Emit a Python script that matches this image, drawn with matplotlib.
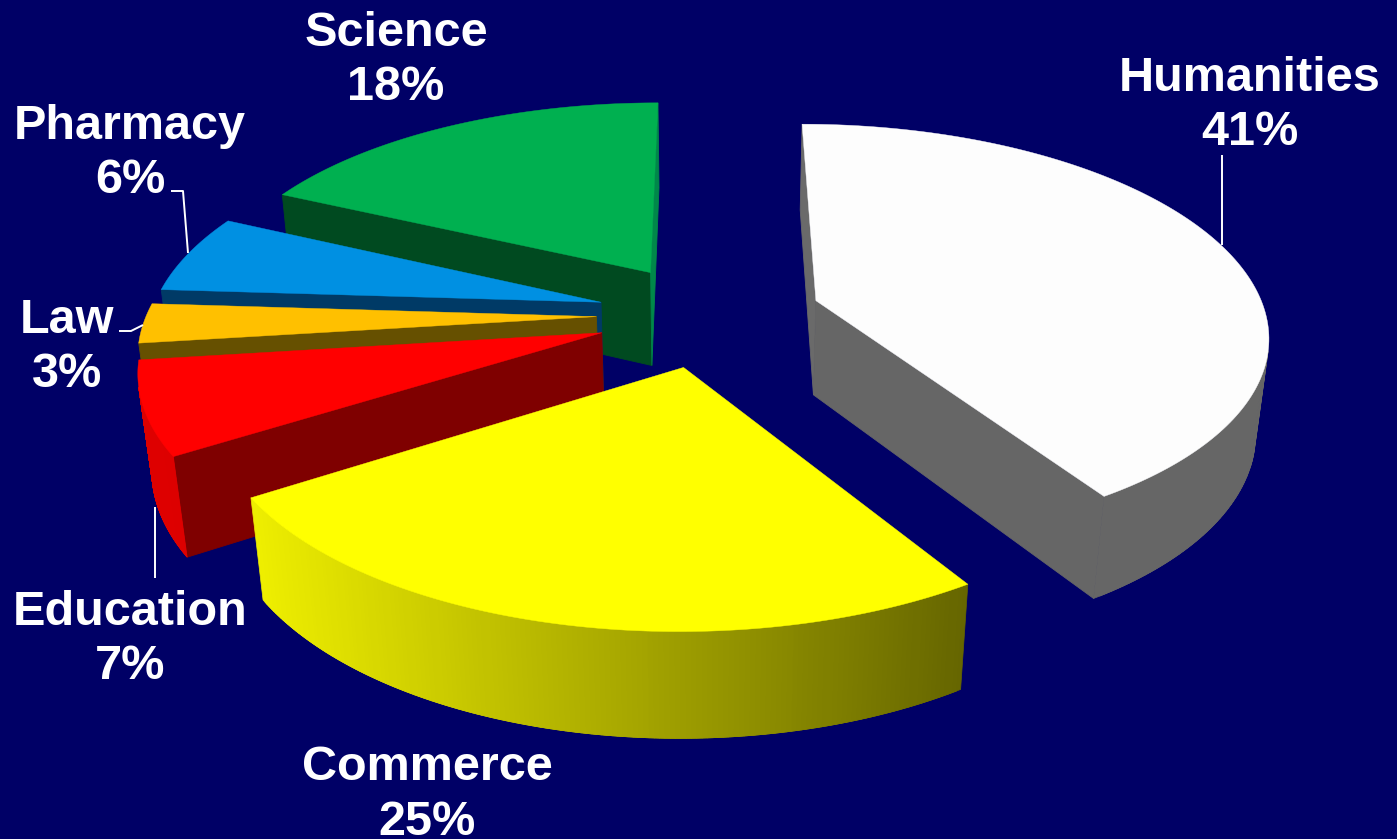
import numpy as np
import matplotlib
matplotlib.use('Agg')
import matplotlib.pyplot as plt
from matplotlib.collections import PolyCollection
from matplotlib.colors import to_rgb

categories = ['Humanities', 'Commerce', 'Education', 'Law', 'Pharmacy', 'Science']
shares = [41, 25, 7, 3, 6, 18]

top_colors = ['#fdfdfd', '#ffff00', '#ff0000', '#ffc000', '#0090e2', '#00b050']
start_face_colors = ['#6a6a6a', '#666600', '#7f0000', '#665000', '#003a66', '#004a20']
end_face_colors = ['#666666', '#666600', '#7f0000', '#665000', '#003a66', '#00874a']
rim_left_colors = ['#666666', '#eeee00', '#de0000', '#806000', '#003a66', '#00874a']
rim_right_colors = ['#666666', '#666600', '#de0000', '#806000', '#003a66', '#00874a']

label_xy = [(1250, 105.5), (427, 795), (130, 639.5), (67, 347.5), (130, 153.5), (396, 60.5)]
leaders = [
    [(1222, 155), (1222, 245)],
    [(155, 507), (155, 578)],
    [(119, 331), (131, 331), (143, 325)],
    [(171, 191), (183, 191), (188, 253)],
]

BACKGROUND = '#000066'
CENTER_X, CENTER_Y = 709, 315
SCALE_X, SCALE_Y = 450, 207
DEPTH = 97
PERSPECTIVE_Y, PERSPECTIVE_Z = 0.15, 0.024
EXPLODE = 0.25
# painting order per slice, back slices first so the nearer ones cover them
PAINT_ORDER = [6, 5, 3, 2, 1, 0]


def project(x, y, z):
    w = 1 + PERSPECTIVE_Y * y + PERSPECTIVE_Z * z
    return CENTER_X + SCALE_X * x / w, CENTER_Y + (DEPTH * z - SCALE_Y * y) / w


def wedge_outline(start, end):
    mid = np.radians((start + end) / 2)
    ox, oy = EXPLODE * np.sin(mid), EXPLODE * np.cos(mid)
    angles = np.radians(np.linspace(start, end, 160))
    return ox, oy, ox + np.sin(angles), oy + np.cos(angles)


def panel(xs, ys):
    # side panel through plan points, top edge then bottom edge
    top = [project(x, y, 0) for x, y in zip(xs, ys)]
    bottom = [project(x, y, 1) for x, y in zip(xs[::-1], ys[::-1])]
    return top + bottom


def faces_viewer(verts):
    # panels wound this way on screen point at the camera
    xs, ys = np.array(verts).T
    return np.sum(xs * np.roll(ys, -1) - np.roll(xs, -1) * ys) < 0


def draw_rim(ax, rim_x, rim_y, idx, zorder):
    # overlapping strips so the shade runs from left to right without seams
    strips = [panel(rim_x[i:i + 3], rim_y[i:i + 3]) for i in range(len(rim_x) - 2)
              if faces_viewer(panel(rim_x[i:i + 2], rim_y[i:i + 2]))]
    if not strips:
        return
    screen_x = np.array([np.mean([p[0] for p in strip]) for strip in strips])
    frac = (screen_x - screen_x.min()) / max(screen_x.max() - screen_x.min(), 1)
    left, right = np.array(to_rgb(rim_left_colors[idx])), np.array(to_rgb(rim_right_colors[idx]))
    colors = [left + (right - left) * f for f in frac]
    ax.add_collection(PolyCollection(strips, facecolors=colors, edgecolors=colors, linewidths=0.5,
                                     zorder=zorder))


def draw_slice(ax, start, end, idx):
    ox, oy, rim_x, rim_y = wedge_outline(start, end)
    zorder = PAINT_ORDER[idx]

    start_face = panel([ox, rim_x[0]], [oy, rim_y[0]])
    end_face = panel([rim_x[-1], ox], [rim_y[-1], oy])
    for verts, color in [(start_face, start_face_colors[idx]), (end_face, end_face_colors[idx])]:
        if faces_viewer(verts):
            ax.fill(*zip(*verts), color=color, lw=0.6, zorder=zorder)
    draw_rim(ax, rim_x, rim_y, idx, zorder)

    outline = [project(ox, oy, 0)] + [project(x, y, 0) for x, y in zip(rim_x, rim_y)]
    ax.fill(*zip(*outline), color=top_colors[idx], lw=0.3, zorder=zorder)


fig = plt.figure(figsize=(13.97, 8.39), dpi=100, facecolor=BACKGROUND)
ax = fig.add_axes([0, 0, 1, 1])
ax.set_xlim(0, 1397)
ax.set_ylim(839, 0)
ax.axis('off')

edges = np.concatenate([[0], np.cumsum(shares)]) * 3.6
for i in range(len(categories)):
    draw_slice(ax, edges[i], edges[i + 1], i)

for line in leaders:
    xs, ys = zip(*line)
    ax.plot(xs, ys, color='white', lw=1.4, zorder=8, solid_capstyle='butt')

for name, share, (x, y) in zip(categories, shares, label_xy):
    ax.text(x, y, f'{name}\n{share}%', color='white', ha='center', va='center', fontsize=35,
            fontweight='bold', family=['Liberation Sans', 'DejaVu Sans'], linespacing=1.27, zorder=9)

fig.savefig('out.png', dpi=100, facecolor=BACKGROUND)
